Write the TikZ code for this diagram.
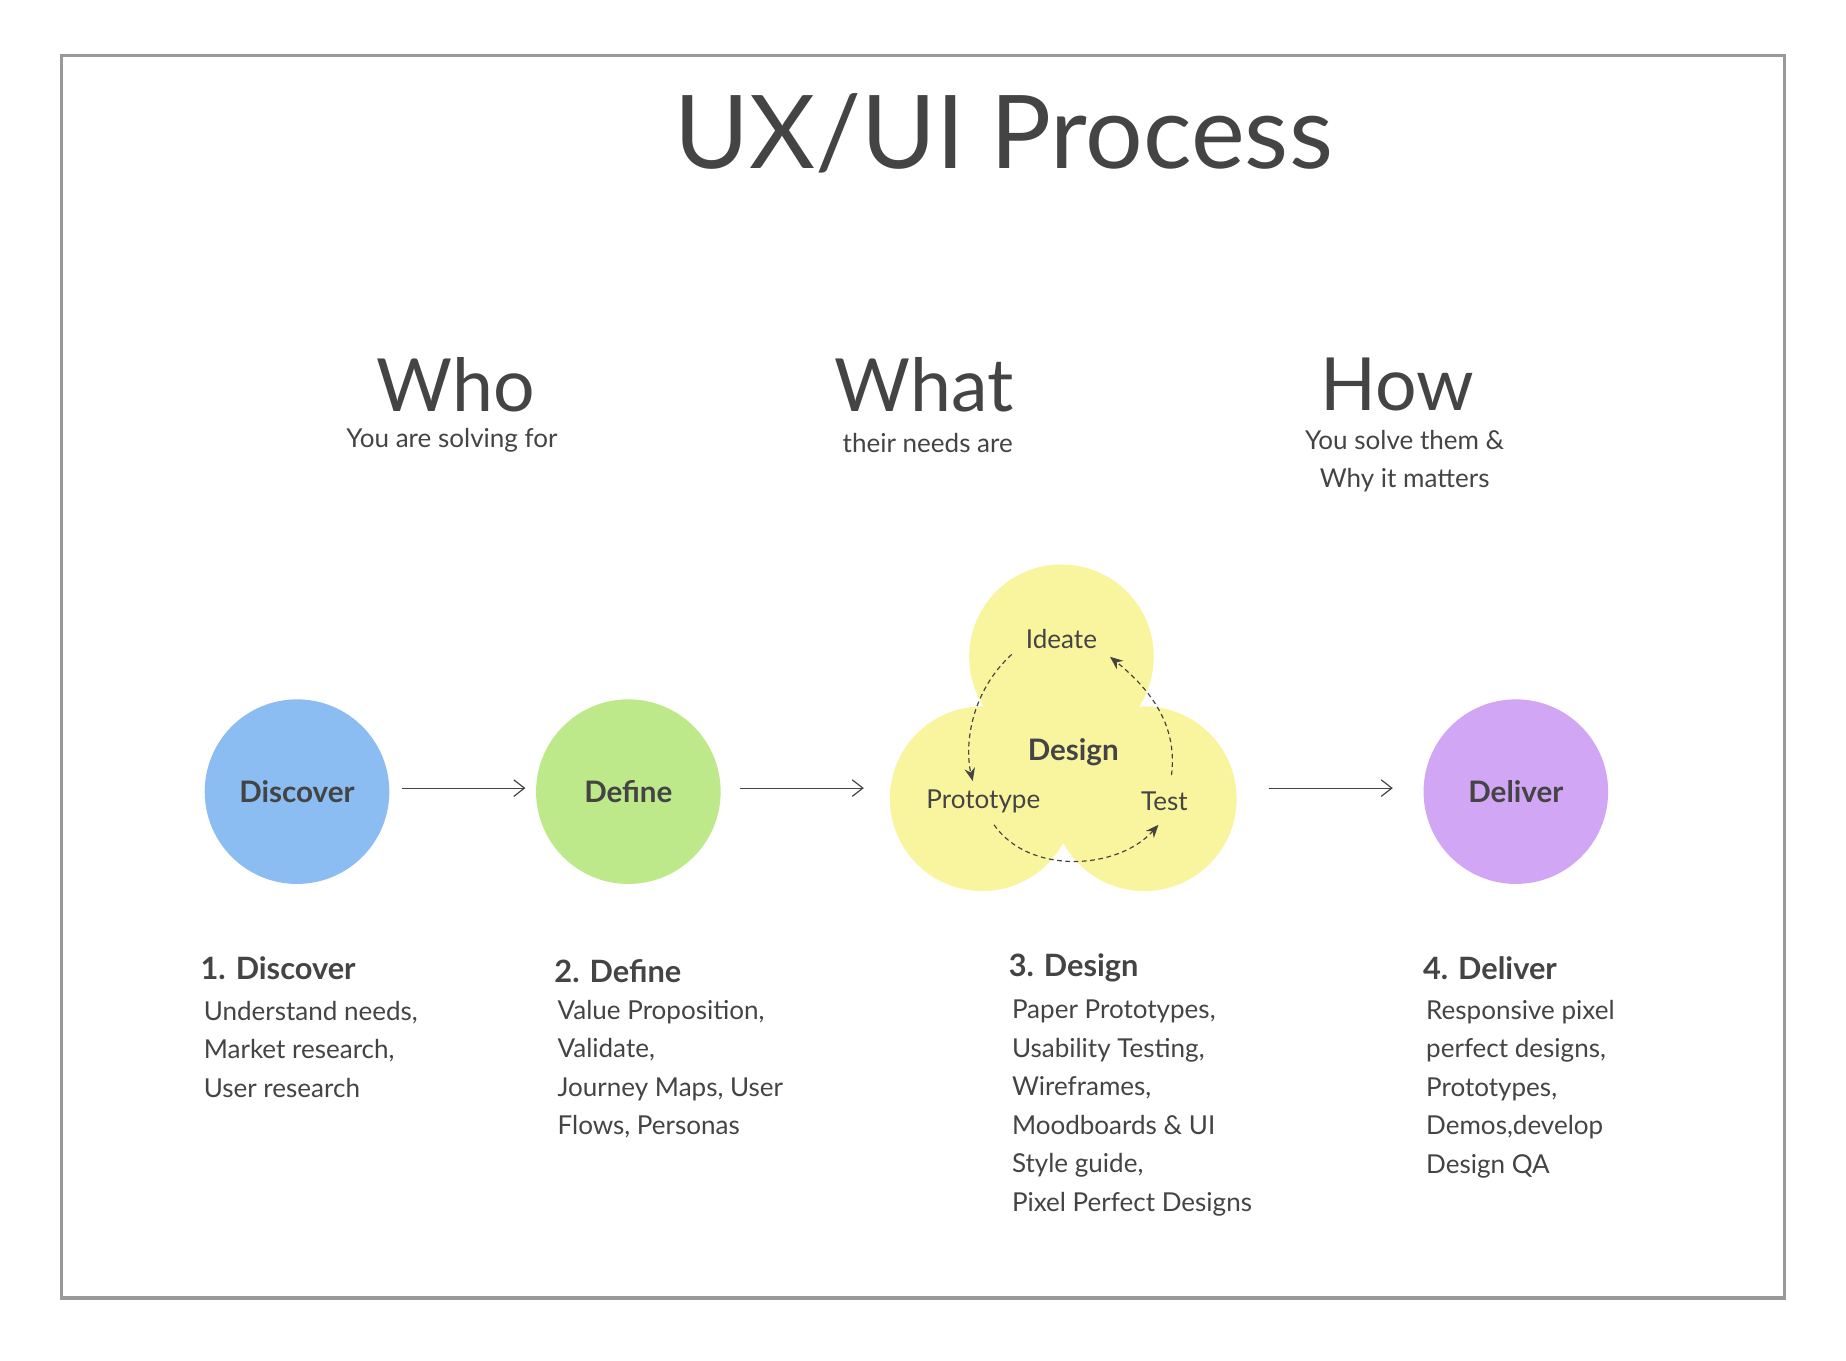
\documentclass[tikz,border=0pt]{standalone}
\usepackage{fontspec}
\setmainfont{Lato}
\usetikzlibrary{arrows.meta}
\definecolor{txt}{HTML}{444444}
\definecolor{cblue}{HTML}{8BBDF2}
\definecolor{cgreen}{HTML}{BDE98A}
\definecolor{cyel}{HTML}{F9F59E}
\definecolor{cpurp}{HTML}{D1A6F4}
\begin{document}
\begin{tikzpicture}[x=1pt,y=-1pt,
  blob/.style={circle,minimum size=156pt,inner sep=0pt},
  lab/.style={font=\fontsize{25}{30}\selectfont\bfseries,text=txt},
  flow/.style={draw=txt,line width=1pt,-{Straight Barb[length=9pt,width=14pt]}},
  cyc/.style={draw=txt,line width=1pt,dash pattern=on 4pt off 3pt,-{Stealth[length=11pt,width=9pt]}},
  head/.style={font=\fontsize{62}{70}\selectfont,text=txt},
  sub/.style={font=\fontsize{22}{32}\selectfont,text=txt,align=center},
  stephead/.style={font=\fontsize{26}{30}\selectfont\bfseries,text=txt,anchor=west},
  body/.style={font=\fontsize{22}{32.5}\selectfont,text=txt,anchor=north west,align=left,inner sep=0pt}]
\useasboundingbox (0,0) rectangle (1560,1150);
\fill[white] (0,0) rectangle (1560,1150);
\draw[color=black!40,line width=3pt] (52,47) rectangle (1508,1097);
\node[text=txt,font=\fontsize{86}{90}\selectfont] (title) at (848,113) {UX/UI Process};
\node[head] (who) at (385,325) {Who};
\node[sub] (whos) at (382,372) {You are solving for};
\node[head] (what) at (781,325) {What};
\node[sub] (whats) at (784,374) {their needs are};
\node[head] (how) at (1181,325) {How};
\node[sub] (hows) at (1187,390) {You solve them \&\\Why it matters};
\node[blob,fill=cblue] (disc) at (251,669) {};
\node[blob,fill=cgreen] (def) at (531,669) {};
\node[blob,fill=cyel] (top) at (897,555) {};
\node[blob,fill=cyel] (left) at (830,675) {};
\node[blob,fill=cyel] (right) at (967,675) {};
\node[blob,fill=cpurp] (del) at (1281,669) {};
\node[lab] at (disc) {Discover};
\node[lab] at (def) {Define};
\node[lab] at (del) {Deliver};
\node[lab] (design) at (907,636) {Design};
\node[text=txt,font=\fontsize{22}{26}\selectfont] (ideate) at (897,540) {Ideate};
\node[text=txt,font=\fontsize{22}{26}\selectfont] (proto) at (831,677) {Prototype};
\node[text=txt,font=\fontsize{22}{26}\selectfont] (test) at (984,677) {Test};
\coordinate (a1) at (855,553); \coordinate (a2) at (822,660);
\coordinate (b1) at (840,697); \coordinate (b2) at (979,697);
\coordinate (c1) at (990,655); \coordinate (c2) at (938,555);
\draw[cyc] (a1) .. controls (820,585) and (815,630) .. (a2);
\draw[cyc] (b1) .. controls (870,740) and (945,735) .. (b2);
\draw[cyc] (c1) .. controls (995,615) and (975,585) .. (c2);
\coordinate (f1) at (340,666); \coordinate (f2) at (444,666);
\coordinate (g1) at (625,666); \coordinate (g2) at (730,666);
\coordinate (h1) at (1072,666); \coordinate (h2) at (1177,666);
\draw[flow] (f1) -- (f2);
\draw[flow] (g1) -- (g2);
\draw[flow] (h1) -- (h2);
\node[stephead] (s1) at (166,818) {1. Discover};
\node[stephead] (s2) at (465,821) {2. Define};
\node[stephead] (s3) at (849,818) {3. Design};
\node[stephead] (s4) at (1199,818) {4. Deliver};
\node[body] (t1) at (172,846) {Understand needs,\\Market research,\\User research};
\node[body] (t2) at (471,845) {Value Proposition,\\Validate,\\Journey Maps, User\\Flows, Personas};
\node[body] (t3) at (855,845) {Paper Prototypes,\\Usability Testing,\\Wireframes,\\Moodboards \& UI\\Style guide,\\Pixel Perfect Designs};
\node[body] (t4) at (1205,845) {Responsive pixel\\perfect designs,\\Prototypes,\\Demos,develop\\Design QA};
\end{tikzpicture}
\end{document}
